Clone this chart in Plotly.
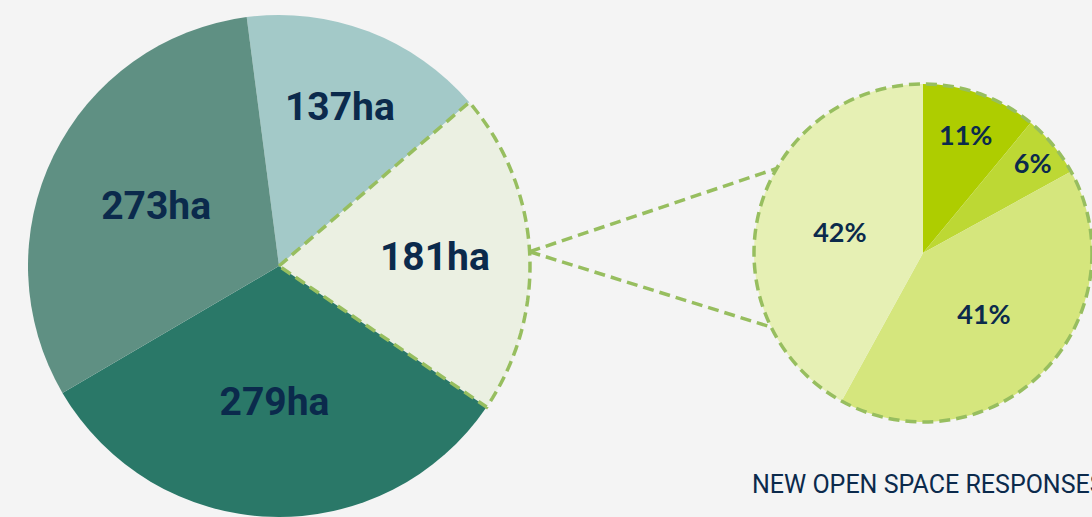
import math
import plotly.graph_objects as go

# ---------------- data ----------------
area_labels = ["137ha", "181ha", "279ha", "273ha"]
area_values = [137, 181, 279, 273]
area_colors = ["#a3c9c8", "#ebf0e2", "#2a7868", "#5f9083"]

resp_labels = ["11%", "6%", "41%", "42%"]
resp_values = [11, 6, 41, 42]
resp_colors = ["#aecd00", "#bdd834", "#d5e67d", "#e6f0b4"]

caption = "NEW OPEN SPACE RESPONSES"

# ---------------- layout geometry (pixels) ----------------
W, H = 1092, 517
BIG_C = (279, 266)
BIG_R = 251
BIG_ROT = -7.4
SMALL_C = (923, 253)
BG = "#f4f4f4"
NAVY = "#0b2a4c"
GREEN = "#97be5f"
DASH = "11px,6px"
LW = 3.5
FOCUS = 1  # index of the exploded slice (181ha)
COND = "Liberation Sans Narrow, Roboto, sans-serif"


def px(x, y):
    return x / W, 1 - y / H


def polar(c, r, ang):
    a = math.radians(ang)
    return c[0] + r * math.sin(a), c[1] - r * math.cos(a)


big_dom_x = [(BIG_C[0] - BIG_R) / W, (BIG_C[0] + BIG_R) / W]
big_dom_y = [(H - BIG_C[1] - BIG_R) / H, (H - BIG_C[1] + BIG_R) / H]

small_half_w = W - SMALL_C[0]
SMALL_R = small_half_w
small_dom_x = [(SMALL_C[0] - small_half_w) / W, 1.0]
small_dom_y = [(H - SMALL_C[1] - SMALL_R) / H, (H - SMALL_C[1] + SMALL_R) / H]

fig = go.Figure()
fig.add_trace(go.Pie(
    values=area_values, labels=area_labels, sort=False, direction="clockwise",
    rotation=BIG_ROT, domain=dict(x=big_dom_x, y=big_dom_y),
    marker=dict(colors=area_colors, line=dict(width=0)),
    texttemplate="%{label}", textposition="inside", insidetextorientation="horizontal",
    textfont=dict(family=COND, size=39, color=NAVY, weight="bold"),
    hoverinfo="label", showlegend=False,
))
fig.add_trace(go.Pie(
    values=resp_values, labels=resp_labels, sort=False, direction="clockwise",
    rotation=0, domain=dict(x=small_dom_x, y=small_dom_y),
    marker=dict(colors=resp_colors, line=dict(width=0)),
    texttemplate="%{label}", textposition="inside", insidetextorientation="horizontal",
    textfont=dict(family="Lato, Noto Sans, sans-serif", size=27, color=NAVY, weight="bold"),
    hoverinfo="label", showlegend=False,
))

# dashed outline of the exploded slice, from the data angles
tot = sum(area_values)
a0 = BIG_ROT + 360 * sum(area_values[:FOCUS]) / tot
a1 = BIG_ROT + 360 * sum(area_values[:FOCUS + 1]) / tot
pts = [BIG_C]
n = 60
for i in range(n + 1):
    pts.append(polar(BIG_C, BIG_R, a0 + (a1 - a0) * i / n))
pts.append(BIG_C)
path = "M " + " L ".join(f"{px(*p)[0]:.5f},{px(*p)[1]:.5f}" for p in pts)
shapes = [dict(type="path", path=path, xref="paper", yref="paper",
               line=dict(color=GREEN, width=LW, dash=DASH))]

# dashed circle round the small pie
x0, y0 = px(SMALL_C[0] - SMALL_R, SMALL_C[1] - SMALL_R)
x1, y1 = px(SMALL_C[0] + SMALL_R, SMALL_C[1] + SMALL_R)
shapes.append(dict(type="circle", xref="paper", yref="paper", x0=x0, y0=y1, x1=x1, y1=y0,
                   line=dict(color=GREEN, width=LW, dash=DASH)))

# connector lines
mid = (a0 + a1) / 2
P = polar(BIG_C, BIG_R, mid)
for ang in (300, 244):
    Q = polar(SMALL_C, SMALL_R, ang)
    pa, qa = px(*P), px(*Q)
    shapes.append(dict(type="line", xref="paper", yref="paper",
                       x0=pa[0], y0=pa[1], x1=qa[0], y1=qa[1],
                       line=dict(color=GREEN, width=LW, dash=DASH)))

cx, cy = px(750, 484)
fig.update_layout(
    width=W, height=H, margin=dict(l=0, r=0, t=0, b=0),
    paper_bgcolor=BG, plot_bgcolor=BG,
    shapes=shapes,
    annotations=[dict(text=caption, xref="paper", yref="paper", x=cx, y=cy,
                      xanchor="left", yanchor="middle", showarrow=False,
                      font=dict(family=COND, size=25, color=NAVY))],
)

fig.write_html("out.html", config={"displayModeBar": False},
               post_script="document.body.style.margin='0';document.body.style.background='%s';" % BG)
